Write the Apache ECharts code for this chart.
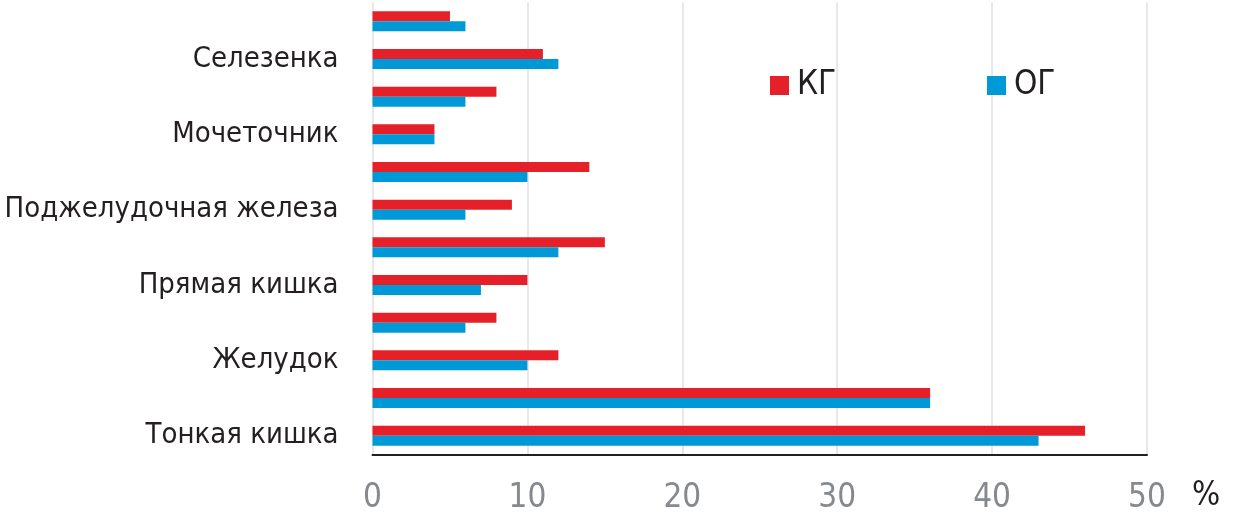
<!DOCTYPE html>
<html>
<head>
<meta charset="utf-8">
<script src="https://cdn.jsdelivr.net/npm/echarts@6/dist/echarts.min.js"></script>
<style>
html,body{margin:0;padding:0;background:#fff;}
#chart{width:1237px;height:524px;}
</style>
</head>
<body>
<div id="chart"></div>
<script>
// Categories listed bottom-to-top (ECharts category y-axis order)
const categories = ['Тонкая кишка', '', 'Желудок', '', 'Прямая кишка', '', 'Поджелудочная железа', '', 'Мочеточник', '', 'Селезенка', ''];
const seriesNames = ['КГ', 'ОГ'];
const kgValues = [46, 36, 12, 8, 10, 15, 9, 14, 4, 8, 11, 5];
const ogValues = [43, 36, 10, 6, 7, 12, 6, 10, 4, 6, 12, 6];
const xTicks = [0, 10, 20, 30, 40, 50];
const unitLabel = '%';

const FONT = "'DejaVu Sans Condensed', 'Liberation Sans Narrow', sans-serif";
const RED = '#E52029';
const BLUE = '#0099D8';

const chart = echarts.init(document.getElementById('chart'), null, {renderer: 'canvas'});
chart.setOption({
  animation: false,
  textStyle: {fontFamily: FONT},
  grid: {left: 372.5, right: 90, top: 2.5, bottom: 69.5, containLabel: false, outerBoundsMode: 'none'},
  legend: [
    {data: [seriesNames[0]], left: 765, top: 64, itemWidth: 19, itemHeight: 19, icon: 'rect', itemGap: 0,
     textStyle: {fontFamily: FONT, fontSize: 33, color: '#231f20', padding: [0, 0, 0, 3]}},
    {data: [seriesNames[1]], left: 982, top: 64, itemWidth: 19, itemHeight: 19, icon: 'rect', itemGap: 0,
     textStyle: {fontFamily: FONT, fontSize: 33, color: '#231f20', padding: [0, 0, 0, 3]}}
  ],
  xAxis: {
    type: 'value', min: xTicks[0], max: xTicks[xTicks.length - 1], interval: 10,
    axisLine: {show: true, lineStyle: {color: '#231f20', width: 2}},
    axisTick: {show: false},
    splitLine: {show: true, lineStyle: {color: '#e8e8e8', width: 2}},
    axisLabel: {fontFamily: FONT, fontSize: 33, color: '#86898e', margin: 27}
  },
  yAxis: {
    type: 'category', data: categories,
    axisLine: {show: false}, axisTick: {show: false}, splitLine: {show: false},
    axisLabel: {fontFamily: FONT, fontSize: 29, color: '#231f20', margin: 34, interval: 0}
  },
  graphic: [{
    type: 'text', left: 1192, top: 480,
    style: {text: unitLabel, font: '33px ' + FONT, fill: '#231f20'}
  }],
  series: [
    {name: seriesNames[0], type: 'bar', data: kgValues, itemStyle: {color: RED}, barWidth: 10, barGap: '0%'},
    {name: seriesNames[1], type: 'bar', data: ogValues, itemStyle: {color: BLUE}, barWidth: 10, barGap: '0%'}
  ]
});
</script>
</body>
</html>
